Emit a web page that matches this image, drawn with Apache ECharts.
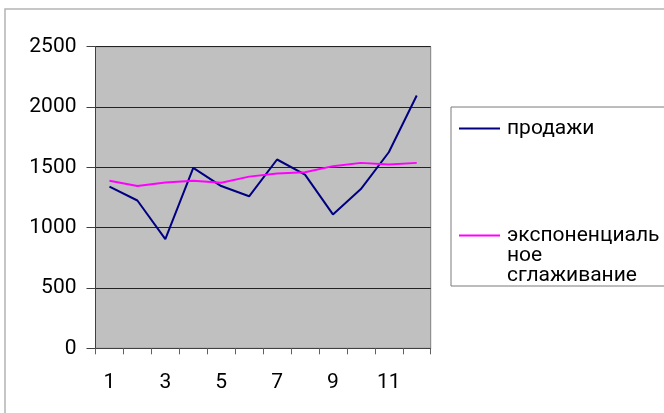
<!DOCTYPE html>
<html>
<head>
<meta charset="utf-8">
<script src="https://cdn.jsdelivr.net/npm/echarts@6/dist/echarts.min.js"></script>
<style>
  html, body { margin: 0; padding: 0; background: #fff; }
  #chart { width: 664px; height: 413px; }
</style>
</head>
<body>
<div id="chart"></div>
<script>
// Monthly sales and their exponential smoothing
const months = ['1', '2', '3', '4', '5', '6', '7', '8', '9', '10', '11', '12'];
const sales = [1340, 1225, 905, 1495, 1345, 1260, 1565, 1440, 1110, 1320, 1625, 2095];
const smoothed = [1388, 1345, 1375, 1388, 1372, 1423, 1448, 1460, 1510, 1537, 1524, 1537];
const yTicks = { min: 0, max: 2500, step: 500 };

const salesName = 'продажи';
const smoothName = 'экспоненциальное сглаживание';
// the long legend name wraps over three lines; two blank lines on top keep
// the first line level with the legend's line icon
const smoothLabel = '\n\nэкспоненциаль\nное\nсглаживание';

const font = 'Roboto, "Liberation Sans", Arial, sans-serif';
const lineIcon = 'path://M0,0H41V2H0Z';

const chart = echarts.init(document.getElementById('chart'), null, { renderer: 'canvas' });

const legendText = { fontFamily: font, fontSize: 21, lineHeight: 20, color: '#000', padding: [0, 0, 0, 2] };

chart.setOption({
  animation: false,
  backgroundColor: '#ffffff',
  textStyle: { fontFamily: font, color: '#000' },
  graphic: [
    {
      type: 'rect',
      z: -10,
      shape: { x: 5, y: 9, width: 700, height: 420 },
      style: { fill: '#ffffff', stroke: '#b4b4b4', lineWidth: 1.5 }
    },
    {
      type: 'rect',
      z: -5,
      shape: { x: 451, y: 107, width: 240, height: 179 },
      style: { fill: '#ffffff', stroke: '#7a7a7a', lineWidth: 1 }
    }
  ],
  grid: {
    left: 95.5, right: 233.3, top: 46.7, bottom: 64.7,
    show: true,
    backgroundColor: '#c0c0c0',
    borderColor: '#808080',
    borderWidth: 1
  },
  legend: [
    {
      data: [{ name: salesName, icon: lineIcon }],
      left: 459, top: 118, padding: 0,
      itemWidth: 41, itemHeight: 20,
      textStyle: legendText,
      selectedMode: false
    },
    {
      data: [{ name: smoothName, icon: lineIcon }],
      left: 459, top: 185, padding: 0,
      itemWidth: 41, itemHeight: 20,
      formatter: () => smoothLabel,
      textStyle: legendText,
      selectedMode: false
    }
  ],
  xAxis: {
    type: 'category',
    data: months,
    boundaryGap: true,
    axisLine: { lineStyle: { color: '#404040', width: 1 } },
    axisTick: { show: true, length: 6, lineStyle: { color: '#606060' }, alignWithLabel: false, interval: 0 },
    axisLabel: { interval: 1, fontSize: 21, fontFamily: font, color: '#000', margin: 24 },
    splitLine: { show: false }
  },
  yAxis: {
    type: 'value',
    min: yTicks.min, max: yTicks.max, interval: yTicks.step,
    axisLine: { show: true, lineStyle: { color: '#404040', width: 1 } },
    axisTick: { show: true, length: 9, lineStyle: { color: '#404040' } },
    axisLabel: { fontSize: 21, fontFamily: font, color: '#000', margin: 19, formatter: v => String(v) },
    splitLine: { show: true, lineStyle: { color: '#222', width: 1 } }
  },
  series: [
    {
      name: salesName,
      type: 'line',
      data: sales,
      symbol: 'none',
      lineStyle: { color: '#000080', width: 2 },
      itemStyle: { color: '#000080' },
      z: 3
    },
    {
      name: smoothName,
      type: 'line',
      data: smoothed,
      symbol: 'none',
      lineStyle: { color: '#ff00ff', width: 2 },
      itemStyle: { color: '#ff00ff' },
      z: 4
    }
  ]
});
</script>
</body>
</html>
